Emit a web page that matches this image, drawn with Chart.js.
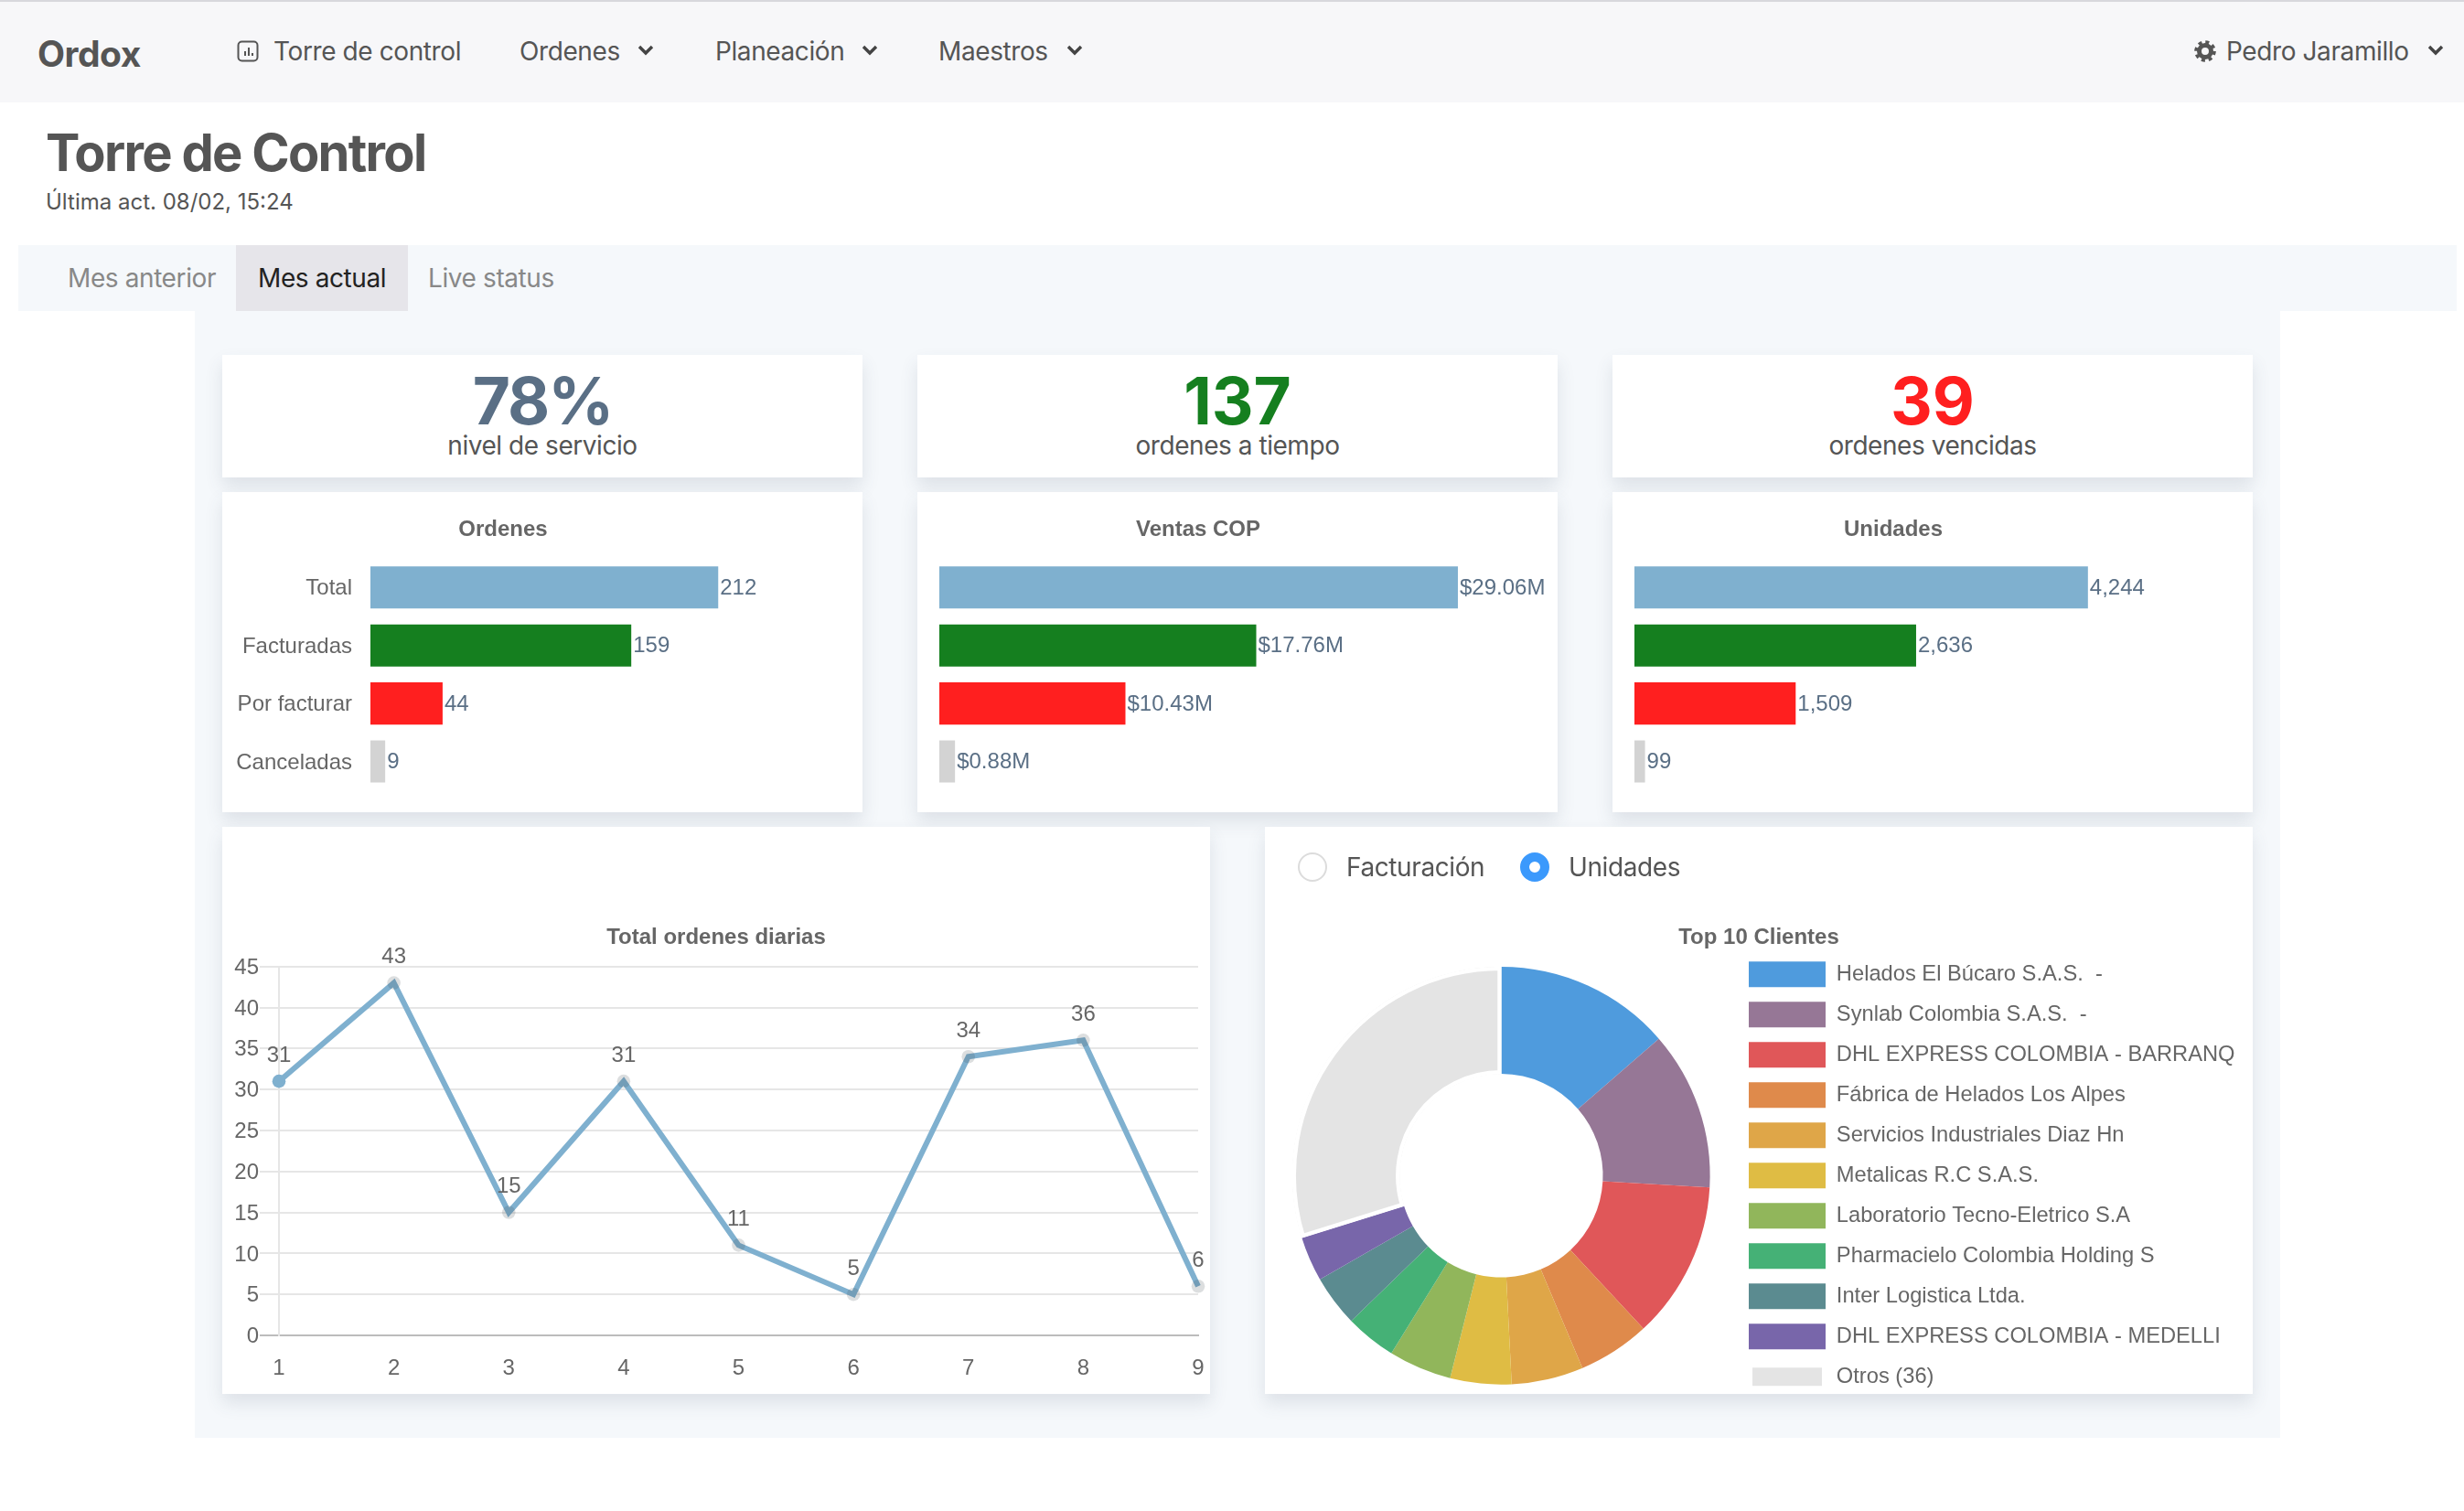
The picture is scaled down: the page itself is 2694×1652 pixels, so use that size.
<!DOCTYPE html>
<html lang="es">
<head>
<meta charset="utf-8">
<title>Torre de Control</title>
<script src="https://cdn.jsdelivr.net/npm/chart.js@4"></script>
<style>
  html, body { margin: 0; padding: 0; background: #fff; width: 2694px; height: 1652px; overflow: hidden; }
  body { font-family: Inter, "Noto Sans", sans-serif; color: #555; position: relative; }
  .abs { position: absolute; white-space: nowrap; }
  .mid { transform: translateY(-50%); }
  #nav { left: 0; top: 0; width: 2694px; height: 110px; background: #f7f7f9; border-top: 2px solid #d8d8dc; }
  #tabs { left: 20px; top: 268px; width: 2666px; height: 72px; background: #f5f8fb; }
  #panel { left: 213px; top: 340px; width: 2280px; height: 1232px; background: #f5f8fb; }
  #active { left: 258px; top: 268px; width: 188px; height: 72px; background: #e6e5ea; }
  .card { position: absolute; background: #fff; box-shadow: 0 10px 18px rgba(60,80,100,.13); }
  .card canvas { position: absolute; left: 0; top: 0; }
  .kpi { width: 700px; height: 134px; top: 388px; text-align: center; }
  .kpi b { position: absolute; left: 0; right: 0; top: 7px; font-size: 71px; line-height: 86px; }
  .kpi span { position: absolute; left: 0; right: 0; top: 82px; font-size: 28px; line-height: 34px; color: #555; letter-spacing: -.45px; }
  .nav-t { font-size: 28px; top: 56px; color: #555; letter-spacing: -.4px; }
  .tab-t { font-size: 28px; top: 304px; color: #888; letter-spacing: -.4px; }
  .radio { position: absolute; width: 32px; height: 32px; border-radius: 50%; box-sizing: border-box; transform: translateY(-50%); }
</style>
</head>
<body>
<div class="abs" id="nav"></div>
<div class="abs mid" style="left:41px;top:58px;font-size:39px;font-weight:700;letter-spacing:-.5px">Ordox</div>

<svg class="abs" style="left:259px;top:44px" width="24" height="24" viewBox="0 0 24 24">
  <rect x="1.5" y="1.5" width="21" height="21" rx="4" fill="none" stroke="#555" stroke-width="2"/>
  <path d="M9 12v5M13 8v9M17 14v3" stroke="#555" stroke-width="2"/>
</svg>
<div class="abs mid nav-t" style="left:299px">Torre de control</div>
<div class="abs mid nav-t" style="left:568px">Ordenes</div>
<div class="abs mid nav-t" style="left:782px">Planeación</div>
<div class="abs mid nav-t" style="left:1026px">Maestros</div>
<div class="abs mid nav-t" style="left:2434px">Pedro Jaramillo</div>
<svg class="abs" style="left:697px;top:48px" width="18" height="14" viewBox="0 0 18 14"><path d="M2 3l7 7 7-7" fill="none" stroke="#444" stroke-width="3.4"/></svg>
<svg class="abs" style="left:942px;top:48px" width="18" height="14" viewBox="0 0 18 14"><path d="M2 3l7 7 7-7" fill="none" stroke="#444" stroke-width="3.4"/></svg>
<svg class="abs" style="left:1166px;top:48px" width="18" height="14" viewBox="0 0 18 14"><path d="M2 3l7 7 7-7" fill="none" stroke="#444" stroke-width="3.4"/></svg>
<svg class="abs" style="left:2654px;top:48px" width="18" height="14" viewBox="0 0 18 14"><path d="M2 3l7 7 7-7" fill="none" stroke="#444" stroke-width="3.4"/></svg>
<svg class="abs" style="left:2399px;top:44px" width="24" height="24" viewBox="0 0 24 24">
  <circle cx="12" cy="12" r="6.5" fill="none" stroke="#555" stroke-width="5"/>
  <circle cx="12" cy="12" r="10" fill="none" stroke="#555" stroke-width="3.6" stroke-dasharray="4 3.85"/>
</svg>

<div class="abs mid" style="left:50px;top:167px;font-size:56px;font-weight:700;letter-spacing:-1.7px">Torre de Control</div>
<div class="abs mid" style="left:50px;top:220px;font-size:24px">Última act. 08/02, 15:24</div>

<div class="abs" id="panel"></div>
<div class="abs" id="tabs"></div>
<div class="abs" id="active"></div>
<div class="abs mid tab-t" style="left:74px">Mes anterior</div>
<div class="abs mid tab-t" style="left:282px;color:#222">Mes actual</div>
<div class="abs mid tab-t" style="left:468px">Live status</div>

<div class="card kpi" style="left:243px"><b style="color:#5a6f85;letter-spacing:-2px">78%</b><span>nivel de servicio</span></div>
<div class="card kpi" style="left:1003px"><b style="color:#157f1f">137</b><span>ordenes a tiempo</span></div>
<div class="card kpi" style="left:1763px"><b style="color:#ff1f1f">39</b><span>ordenes vencidas</span></div>

<div class="card" style="left:243px;top:538px;width:700px;height:350px"><canvas id="ordenesChart" width="700" height="350"></canvas></div>
<div class="card" style="left:1003px;top:538px;width:700px;height:350px"><canvas id="ventasChart" width="700" height="350"></canvas></div>
<div class="card" style="left:1763px;top:538px;width:700px;height:350px"><canvas id="unidadesChart" width="700" height="350"></canvas></div>

<div class="card" style="left:243px;top:904px;width:1080px;height:620px"><canvas id="diariasChart" width="1080" height="620"></canvas></div>
<div class="card" style="left:1383px;top:904px;width:1080px;height:620px"><canvas id="clientesChart" width="1080" height="620"></canvas></div>

<div class="radio" style="left:1419px;top:948px;background:#fff;border:2px solid #dcdcdc"></div>
<div class="abs mid" style="left:1472px;top:948px;font-size:28px;letter-spacing:-.4px">Facturación</div>
<div class="radio" style="left:1662px;top:948px;background:#fff;border:10px solid #3b99fc"></div>
<div class="abs mid" style="left:1715px;top:948px;font-size:28px;letter-spacing:-.4px">Unidades</div>

<script>
// ---- DATOS ----
const estados = ['Total', 'Facturadas', 'Por facturar', 'Canceladas'];
const ordenesValores = [212, 159, 44, 9];
const ventasValores = [29.06, 17.76, 10.43, 0.88];
const unidadesValores = [4244, 2636, 1509, 99];
const coloresEstado = ['#7fb0cf', '#157f1f', '#ff1f1f', '#d3d3d3'];

const dias = ['1', '2', '3', '4', '5', '6', '7', '8', '9'];
const ordenesDiarias = [31, 43, 15, 31, 11, 5, 34, 36, 6];

const clientes = [
    'Helados El Búcaro S.A.S.  -',
    'Synlab Colombia S.A.S.  -',
    'DHL EXPRESS COLOMBIA - BARRANQ',
    'Fábrica de Helados Los Alpes',
    'Servicios Industriales Diaz Hn',
    'Metalicas R.C S.A.S.',
    'Laboratorio Tecno-Eletrico S.A',
    'Pharmacielo Colombia Holding S',
    'Inter Logistica Ltda.',
    'DHL EXPRESS COLOMBIA - MEDELLI',
    'Otros (36)'
];
const clientesUnidades = [578, 521, 517, 236, 236, 201, 207, 167, 169, 147, 1265];
const clientesColores = ['#4f9bdd', '#967796', '#e05759', '#df8a4b', '#dfa648', '#dfbc44', '#91b65b', '#45b176', '#5b8b90', '#7866aa', '#e4e4e4'];

const FUENTE = '"Liberation Sans", Arial, sans-serif';
const GRIS_TEXTO = '#666';

Chart.defaults.animation = false;
Chart.defaults.responsive = false;
Chart.defaults.font.family = FUENTE;
Chart.defaults.font.size = 24;
Chart.defaults.color = GRIS_TEXTO;

// Etiqueta de valor al final de cada barra
const etiquetasBarra = {
    id: 'etiquetasBarra',
    afterDatasetsDraw(chart, args, opts) {
        const ctx = chart.ctx;
        const meta = chart.getDatasetMeta(0);
        ctx.save();
        ctx.font = `24px ${FUENTE}`;
        ctx.fillStyle = '#5a6f85';
        ctx.textAlign = 'left';
        ctx.textBaseline = 'middle';
        meta.data.forEach((bar, i) => {
            ctx.fillText(opts.formato(chart.data.datasets[0].data[i]), bar.x + 2, bar.y + 1);
        });
        ctx.restore();
    }
};

// Etiqueta encima de cada punto de la linea
const etiquetasPunto = {
    id: 'etiquetasPunto',
    afterDatasetsDraw(chart) {
        const ctx = chart.ctx;
        const meta = chart.getDatasetMeta(0);
        ctx.save();
        ctx.font = `24px ${FUENTE}`;
        ctx.fillStyle = GRIS_TEXTO;
        ctx.textAlign = 'center';
        ctx.textBaseline = 'middle';
        meta.data.forEach((p, i) => {
            ctx.fillText(String(chart.data.datasets[0].data[i]), p.x, p.y - 28);
        });
        ctx.restore();
    }
};

// La leyenda y el titulo del donut no siguen el layout normal
const ubicarLeyenda = {
    id: 'ubicarLeyenda',
    beforeDraw(chart) {
        const legend = chart.legend;
        legend.left = 513;
        legend.right = 1080;
        legend.top = 131.3;
        legend.bottom = 660;
        chart.titleBlock.left = 0;
        chart.titleBlock.right = 1080;
    }
};

function crearBarras(id, titulo, valores, xMax, plotLeft, conEtiquetas, formato) {
    new Chart(document.getElementById(id), {
        type: 'bar',
        data: {
            labels: estados,
            datasets: [{
                data: valores,
                backgroundColor: coloresEstado,
                categoryPercentage: 1,
                barPercentage: 0.727
            }]
        },
        options: {
            indexAxis: 'y',
            maintainAspectRatio: false,
            layout: { padding: { right: 86, bottom: 23.8 } },
            scales: {
                x: { display: false, min: 0, max: xMax },
                y: {
                    grid: { display: false, drawTicks: false },
                    border: { display: false },
                    ticks: { display: conEtiquetas, padding: 20, labelOffset: 1.5, color: GRIS_TEXTO },
                    afterFit(scale) {
                        scale.width = plotLeft;
                        scale.paddingTop = 0;
                        scale.paddingBottom = 0;
                    }
                }
            },
            plugins: {
                legend: { display: false },
                tooltip: { enabled: false },
                title: {
                    display: true,
                    text: titulo,
                    color: GRIS_TEXTO,
                    font: { size: 24, weight: 'bold' },
                    padding: { top: 26.5, bottom: 17.3 }
                },
                etiquetasBarra: { formato: formato }
            }
        },
        plugins: [etiquetasBarra]
    });
}

crearBarras('ordenesChart', 'Ordenes', ordenesValores, 252, 162, true, v => String(v));
crearBarras('ventasChart', 'Ventas COP', ventasValores, 30.24, 24, false, v => `$${v.toFixed(2)}M`);
crearBarras('unidadesChart', 'Unidades', unidadesValores, 5050, 24, false, v => v.toLocaleString('en-US'));

new Chart(document.getElementById('diariasChart'), {
    type: 'line',
    data: {
        labels: dias,
        datasets: [{
            data: ordenesDiarias,
            borderColor: '#7fb0cf',
            borderWidth: 6,
            tension: 0,
            fill: false,
            clip: false,
            pointRadius: 7.3,
            pointBorderWidth: 0,
            pointBackgroundColor: dias.map((d, i) => i === 0 ? '#7fb0cf' : 'rgba(60,70,80,.18)')
        }]
    },
    options: {
        maintainAspectRatio: false,
        scales: {
            x: {
                offset: false,
                grid: { display: false, drawTicks: false },
                border: { color: '#bcbcbc', width: 2 },
                ticks: { padding: 22, maxRotation: 0, color: GRIS_TEXTO },
                afterFit(scale) {
                    scale.height = 64;
                    scale.paddingLeft = 0;
                    scale.paddingRight = 13;
                }
            },
            y: {
                min: 0,
                max: 45,
                grid: {
                    color: c => c.tick.value === 0 ? '#bcbcbc' : '#e6e6e6',
                    lineWidth: 2,
                    tickLength: 21
                },
                border: { color: '#e6e6e6', width: 2 },
                ticks: { stepSize: 5, padding: 1, labelOffset: 1.5, color: GRIS_TEXTO },
                afterFit(scale) {
                    scale.width = 62;
                    scale.paddingTop = 0;
                    scale.paddingBottom = 0;
                }
            }
        },
        plugins: {
            legend: { display: false },
            tooltip: { enabled: false },
            title: {
                display: true,
                text: 'Total ordenes diarias',
                color: GRIS_TEXTO,
                font: { size: 24, weight: 'bold' },
                padding: { top: 106.5, bottom: 17.4 }
            }
        }
    },
    plugins: [etiquetasPunto]
});

new Chart(document.getElementById('clientesChart'), {
    type: 'doughnut',
    data: {
        labels: clientes,
        datasets: [{
            data: clientesUnidades,
            backgroundColor: clientesColores,
            borderColor: '#fff',
            borderAlign: 'inner',
            borderWidth: clientes.map((c, i) => i === clientes.length - 1 ? 4 : 0),
            cutout: '48.5%'
        }]
    },
    options: {
        maintainAspectRatio: false,
        layout: { padding: { right: 46.8, bottom: 10 } },
        plugins: {
            tooltip: { enabled: false },
            title: {
                display: true,
                text: 'Top 10 Clientes',
                color: GRIS_TEXTO,
                font: { size: 24, weight: 'bold' },
                padding: { top: 106.5, bottom: 17.4 }
            },
            legend: {
                position: 'right',
                align: 'start',
                labels: {
                    boxWidth: 84,
                    boxHeight: 28,
                    padding: 16,
                    color: GRIS_TEXTO,
                    font: { size: 23.7 },
                    generateLabels(chart) {
                        const items = Chart.overrides.doughnut.plugins.legend.labels.generateLabels(chart);
                        items[items.length - 1].lineWidth = 8;
                        return items;
                    }
                }
            }
        }
    },
    plugins: [ubicarLeyenda]
});
</script>
</body>
</html>
